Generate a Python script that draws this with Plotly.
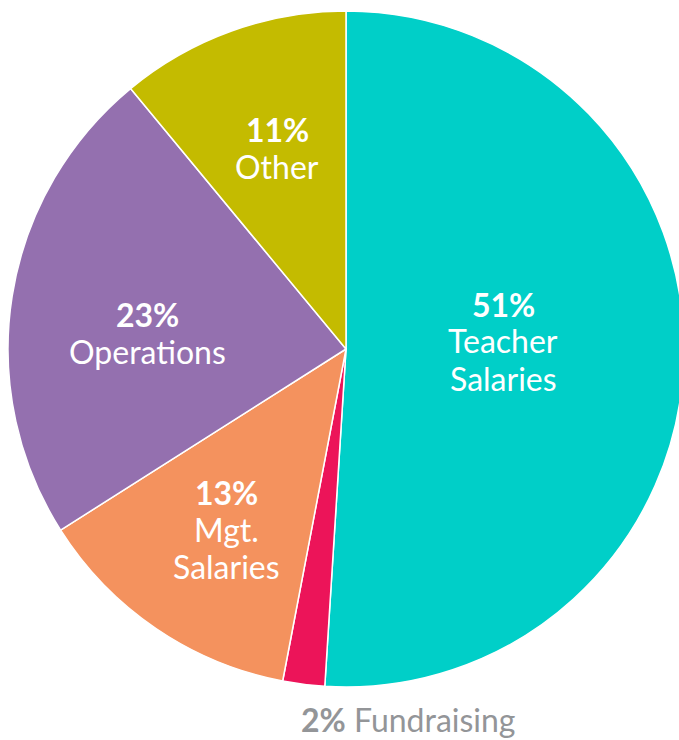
import plotly.graph_objects as go

categories = ["Teacher Salaries", "Fundraising", "Mgt. Salaries", "Operations", "Other"]
values = [51, 2, 13, 23, 11]
colors = ["#00CFC8", "#EC1459", "#F4925E", "#9470AF", "#C4BB00"]
label_lines = [["Teacher", "Salaries"], ["Fundraising"], ["Mgt.", "Salaries"], ["Operations"], ["Other"]]

W, H = 692, 740
L, R, T, B = 8, 8, 11, 53
PW, PH = W - L - R, H - T - B
FONT = "Lato"
FS = 32
LINE = 37

def px(x, y):
    return (x - L) / PW, 1 - (y - T) / PH

# text block anchors: (centre x, cap-centre y of first line)
label_pos = {
    "Teacher Salaries": (503, 304),
    "Mgt. Salaries": (226, 492),
    "Operations": (147, 314),
    "Other": (277, 129),
}

fig = go.Figure(go.Pie(
    labels=categories,
    values=values,
    sort=False,
    direction="clockwise",
    rotation=0,
    marker=dict(colors=colors, line=dict(color="white", width=1.5)),
    textinfo="none",
    hoverinfo="label+percent",
    showlegend=False,
    domain=dict(x=[0, 1], y=[0, 1]),
))

annotations = []
for cat, val, lines in zip(categories, values, label_lines):
    if cat in label_pos:
        cx, cy = label_pos[cat]
        rows = [f"<b>{val}%</b>"] + lines
        for i, row in enumerate(rows):
            x, y = px(cx, cy + i * LINE)
            annotations.append(dict(
                x=x, y=y, xref="paper", yref="paper", text=row, showarrow=False,
                font=dict(family=FONT, size=FS, color="white"),
                xanchor="center", yanchor="middle",
            ))
    else:
        x, y = px(408, 719)
        annotations.append(dict(
            x=x, y=y, xref="paper", yref="paper",
            text=f"<b>{val}%</b> " + " ".join(lines), showarrow=False,
            font=dict(family=FONT, size=FS, color="#939598"),
            xanchor="center", yanchor="middle",
        ))

fig.update_layout(
    width=W, height=H,
    margin=dict(l=L, r=R, t=T, b=B),
    paper_bgcolor="white", plot_bgcolor="white",
    annotations=annotations,
)

fig.write_html(
    "out.html",
    config={"displayModeBar": False},
    post_script="document.documentElement.style.overflow='hidden';"
                "document.body.style.margin='0';document.body.style.overflow='hidden';",
)
